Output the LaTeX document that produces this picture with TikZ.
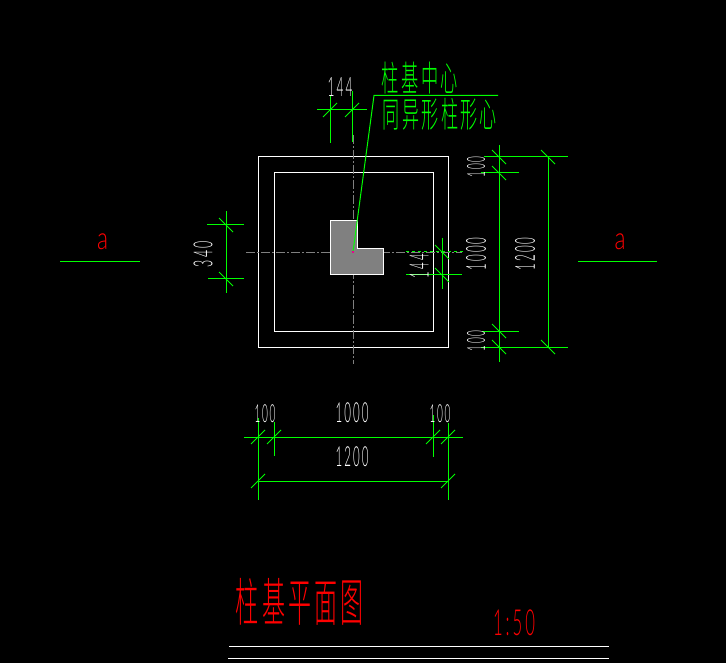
\documentclass[tikz,border=0pt]{standalone}
\usepackage{graphicx}
\usepackage{fontspec}
\setmainfont{Lato Light}[LetterSpace=18]
\newfontfamily\cjk{Noto Sans CJK SC Light}[LetterSpace=14]
\definecolor{cadgreen}{HTML}{00FF00}
\definecolor{cadgray}{HTML}{808080}
\newcommand{\fitto}[3]{\resizebox*{#1pt}{#2pt}{#3}}
\tikzset{
  dimline/.style={draw=cadgreen,line width=1pt},
  slashtick/.style={draw=cadgreen,line width=.8pt},
  outline/.style={draw=white,line width=1pt},
  centerline/.style={draw=cadgray,line width=.9pt,dash pattern=on 9pt off 2pt on 2pt off 2pt},
  label/.style={inner sep=0pt,outer sep=0pt,text=white},
  greenlabel/.style={label,text=cadgreen},
  redlabel/.style={label,text=red},
}
\begin{document}
\begin{tikzpicture}[x=1pt,y=-1pt]
\fill[black] (0,0) rectangle (726,663);
\useasboundingbox (0,0) rectangle (726,663);

% footing squares
\draw[outline] (258,157) rectangle (448,347);
\draw[outline] (274,173) rectangle (433,331);

% centre lines
\draw[centerline] (246,252) -- (462,252);
\draw[centerline] (353,135) -- (353,364);

% L-shaped column
\draw[outline,fill=cadgray] (330.5,221) -- (357,221) -- (357,248.5) -- (383,248.5) -- (383,275) -- (330.5,275) -- cycle;

% top 144 dimension
\draw[dimline] (330,96) -- (330,143);
\draw[dimline] (352,91) -- (352,142);
\draw[dimline] (317,110) -- (367,110);

% leader
\coordinate (centre) at (353,252);
\coordinate (elbow) at (374,95.5);
\coordinate (leaderend) at (498,95.5);
\draw[dimline] (centre) -- (elbow) -- (leaderend);
\fill[magenta] (351.8,251.2) rectangle (353.8,253.2);

% left 340 dimension
\draw[dimline] (226,211) -- (226,293);
\draw[dimline] (207,225) -- (244,225);
\draw[dimline] (208,279) -- (244,279);

% inner right 144 dimension
\draw[dimline] (442,238) -- (442,289);
\draw[dimline] (406,275) -- (462,275);
\draw[dimline,dashed] (406,252) -- (463,252);

% right dimensions
\draw[dimline] (499,145) -- (499,362);
\draw[dimline] (548,157) -- (548,347);
\draw[dimline] (484,157) -- (568,157);
\draw[dimline] (481,173) -- (519,173);
\draw[dimline] (482,331) -- (519,331);
\draw[dimline] (481,347) -- (568,347);

% bottom dimensions
\draw[dimline] (244,437) -- (463,437);
\draw[dimline] (258,418) -- (258,500);
\draw[dimline] (274,422) -- (274,456);
\draw[dimline] (433,415) -- (433,457);
\draw[dimline] (448,423) -- (448,500);
\draw[dimline] (258,481) -- (448,481);

% ticks
\foreach \p in {{330,110},{352,110},{258,437},{274,437},{433,437},{448,437},{258,481},{448,481}}
  \draw[slashtick] ([shift={(-7,7)}]\p) -- ([shift={(7,-7)}]\p);
\foreach \p in {{226,225},{226,279},{442,252},{442,275},{499,157},{499,173},{499,331},{499,347},{548,157},{548,347}}
  \draw[slashtick] ([shift={(-7,-7)}]\p) -- ([shift={(7,7)}]\p);

% section marks
\draw[dimline] (60,261.5) -- (140,261.5);
\draw[dimline] (578,261.5) -- (657,261.5);
\node[redlabel] (secL) at (102.5,241.5) {\fitto{11}{16}{a}};
\node[redlabel] (secR) at (620,241.5) {\fitto{11}{16}{a}};

% dimension texts
\node[label] (t144a) at (340,86.5) {\fitto{25}{19}{144}};
\node[greenlabel] (note1) at (420,78) {\fitto{76}{32}{\cjk 柱基中心}};
\node[greenlabel] (note2) at (440,114) {\fitto{114}{32}{\cjk 同异形柱形心}};
\node[label,rotate=90] (t340) at (203,254) {\fitto{26}{19}{340}};
\node[label,rotate=90] (t144b) at (419,266) {\fitto{24}{19}{144}};
\node[label,rotate=90] (t100a) at (476,167) {\fitto{21}{18}{100}};
\node[label,rotate=90] (t100b) at (476,341) {\fitto{21}{18}{100}};
\node[label,rotate=90] (t1000) at (476,254) {\fitto{33}{20}{1000}};
\node[label,rotate=90] (t1200) at (525,254) {\fitto{33}{20}{1200}};
\node[label] (t100c) at (265,414) {\fitto{21}{18}{100}};
\node[label] (t1000b) at (352,413) {\fitto{33}{20}{1000}};
\node[label] (t100d) at (440,414) {\fitto{21}{18}{100}};
\node[label] (t1200b) at (352,457) {\fitto{33}{20}{1200}};

% title
\node[redlabel] (title) at (300,601.5) {\fitto{128}{47}{\cjk 柱基平面图}};
\node[redlabel] (scale) at (514,623) {\fitto{42}{26}{1:50}};
\draw[outline] (229,646) -- (609,646);
\draw[outline] (228,658) -- (609,658);
\end{tikzpicture}
\end{document}
